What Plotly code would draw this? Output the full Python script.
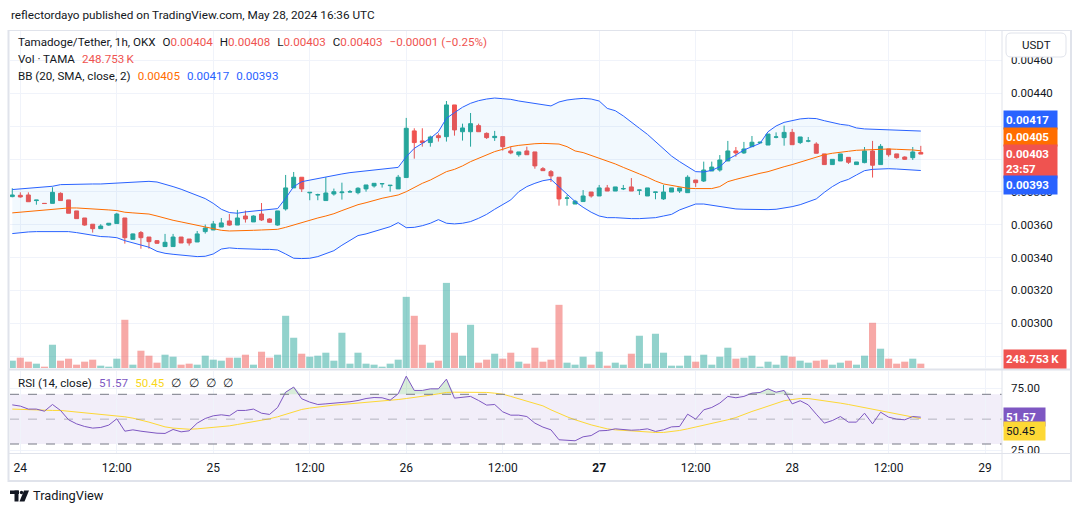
import plotly.graph_objects as go
import pandas as pd

# ---------------- data ----------------
open_ = [0.003771,0.003779,0.003781,0.003747,0.003730,0.003730,0.003791,0.003751,0.003684,0.003641,
         0.003603,0.003576,0.003598,0.003607,0.003641,0.003511,0.003552,0.003525,0.003503,0.003467,
         0.003467,0.003525,0.003513,0.003495,0.003558,0.003568,0.003586,0.003623,0.003598,0.003653,
         0.003617,0.003665,0.003635,0.003598,0.003696,0.003824,0.003889,0.003794,0.003781,0.003747,
         0.003787,0.003795,0.003799,0.003795,0.003818,0.003836,0.003849,0.003838,0.003818,0.003887,
         0.004171,0.004110,0.004100,0.004142,0.004136,0.004329,0.004166,0.004166,0.004203,0.004156,
         0.004130,0.004136,0.004049,0.004026,0.004049,0.004043,0.003941,0.003923,0.003889,0.003761,
         0.003726,0.003741,0.003799,0.003775,0.003824,0.003805,0.003818,0.003830,0.003810,0.003775,
         0.003797,0.003757,0.003799,0.003805,0.003795,0.003872,0.003866,0.003927,0.003933,0.003988,
         0.004049,0.004037,0.004075,0.004098,0.004085,0.004133,0.004130,0.004162,0.004100,0.004109,
         0.004091,0.004031,0.003966,0.003988,0.004010,0.003966,0.003978,0.004049,0.003966,0.004061,
         0.004031,0.004012,0.004008,0.004040]
high = [0.003822,0.003797,0.003797,0.003750,0.003731,0.003828,0.003797,0.003751,0.003684,0.003641,
        0.003603,0.003603,0.003609,0.003672,0.003641,0.003546,0.003562,0.003525,0.003507,0.003544,
        0.003544,0.003525,0.003513,0.003562,0.003601,0.003623,0.003641,0.003665,0.003690,0.003686,
        0.003657,0.003732,0.003639,0.003684,0.003903,0.003921,0.003889,0.003797,0.003789,0.003889,
        0.003820,0.003856,0.003811,0.003828,0.003842,0.003852,0.003850,0.003840,0.003903,0.004250,
        0.004187,0.004187,0.004142,0.004156,0.004353,0.004329,0.004215,0.004280,0.004215,0.004162,
        0.004171,0.004136,0.004075,0.004043,0.004075,0.004043,0.003951,0.003933,0.003889,0.003781,
        0.003751,0.003811,0.003799,0.003842,0.003842,0.003830,0.003842,0.003884,0.003811,0.003824,
        0.003799,0.003842,0.003824,0.003824,0.003901,0.003872,0.003984,0.003984,0.004024,0.004110,
        0.004073,0.004104,0.004140,0.004106,0.004152,0.004162,0.004203,0.004183,0.004134,0.004134,
        0.004102,0.004031,0.003998,0.004031,0.004010,0.003982,0.004073,0.004110,0.004091,0.004061,
        0.004031,0.004016,0.004073,0.004080]
low = [0.003767,0.003765,0.003740,0.003722,0.003729,0.003730,0.003747,0.003670,0.003637,0.003594,
       0.003552,0.003576,0.003594,0.003607,0.003485,0.003511,0.003454,0.003454,0.003485,0.003467,
       0.003467,0.003489,0.003473,0.003495,0.003546,0.003568,0.003586,0.003594,0.003598,0.003613,
       0.003617,0.003623,0.003611,0.003594,0.003686,0.003824,0.003799,0.003749,0.003749,0.003747,
       0.003777,0.003753,0.003797,0.003785,0.003801,0.003826,0.003826,0.003801,0.003818,0.003887,
       0.004002,0.004075,0.004075,0.004106,0.004106,0.004142,0.004112,0.004075,0.004166,0.004122,
       0.004110,0.004051,0.004029,0.004014,0.004026,0.003941,0.003929,0.003860,0.003716,0.003716,
       0.003726,0.003741,0.003765,0.003775,0.003805,0.003805,0.003811,0.003805,0.003781,0.003775,
       0.003755,0.003751,0.003799,0.003793,0.003795,0.003830,0.003860,0.003927,0.003923,0.003988,
       0.004014,0.004031,0.004075,0.004095,0.004085,0.004126,0.004081,0.004087,0.004091,0.004102,
       0.004035,0.003966,0.003966,0.003988,0.003970,0.003966,0.003974,0.003887,0.003966,0.004014,
       0.004002,0.003994,0.003994,0.004030]
close_ = [0.003781,0.003769,0.003740,0.003750,0.003729,0.003797,0.003747,0.003670,0.003637,0.003598,
          0.003576,0.003592,0.003609,0.003665,0.003521,0.003544,0.003521,0.003497,0.003487,0.003493,
          0.003525,0.003489,0.003489,0.003544,0.003580,0.003605,0.003611,0.003598,0.003641,0.003635,
          0.003653,0.003629,0.003615,0.003684,0.003824,0.003889,0.003818,0.003797,0.003783,0.003793,
          0.003801,0.003799,0.003801,0.003822,0.003842,0.003852,0.003850,0.003840,0.003889,0.004187,
          0.004100,0.004100,0.004134,0.004130,0.004329,0.004177,0.004189,0.004215,0.004166,0.004130,
          0.004138,0.004075,0.004037,0.004043,0.004026,0.003958,0.003929,0.003897,0.003757,0.003763,
          0.003743,0.003775,0.003775,0.003824,0.003805,0.003830,0.003820,0.003805,0.003811,0.003824,
          0.003799,0.003799,0.003824,0.003824,0.003889,0.003856,0.003933,0.003951,0.003994,0.004049,
          0.004037,0.004061,0.004102,0.004102,0.004152,0.004134,0.004162,0.004087,0.004134,0.004110,
          0.004035,0.003966,0.003998,0.004031,0.003980,0.003982,0.004049,0.003962,0.004077,0.004026,
          0.004008,0.003998,0.004043,0.004030]
volume_k = [420,592,363,248,76,1337,420,535,191,363,
            478,134,76,535,2770,191,993,707,306,764,
            649,191,248,191,707,478,420,592,592,764,
            191,936,592,764,2999,1738,821,649,707,879,
            420,2025,248,879,248,191,76,248,478,4087,
            2999,1337,306,420,4890,2025,707,2483,306,478,
            821,535,879,363,248,1165,363,478,3629,306,
            191,649,191,936,134,306,191,821,1853,248,
            1967,879,134,134,707,363,764,191,649,1165,
            535,592,707,76,363,191,707,649,420,306,
            420,478,191,306,420,191,707,2598,1108,535,
            248,363,535,248.753]
bb_upper = [0.003814,0.003818,0.003822,0.003826,0.003828,0.003834,0.003844,0.003846,0.003846,0.003848,
            0.003848,0.003848,0.003850,0.003852,0.003854,0.003858,0.003862,0.003864,0.003860,0.003848,
            0.003832,0.003816,0.003797,0.003775,0.003759,0.003730,0.003694,0.003674,0.003670,0.003678,
            0.003684,0.003690,0.003694,0.003698,0.003761,0.003832,0.003862,0.003872,0.003882,0.003893,
            0.003901,0.003909,0.003917,0.003923,0.003925,0.003933,0.003939,0.003943,0.003949,0.004014,
            0.004065,0.004095,0.004126,0.004166,0.004248,0.004282,0.004315,0.004339,0.004355,0.004365,
            0.004371,0.004367,0.004363,0.004353,0.004345,0.004337,0.004329,0.004323,0.004347,0.004359,
            0.004365,0.004369,0.004365,0.004353,0.004308,0.004294,0.004262,0.004227,0.004187,0.004150,
            0.004106,0.004059,0.004018,0.003984,0.003953,0.003923,0.003921,0.003931,0.003953,0.003998,
            0.004024,0.004055,0.004075,0.004095,0.004166,0.004201,0.004223,0.004233,0.004244,0.004248,
            0.004246,0.004233,0.004221,0.004211,0.004205,0.004189,0.004183,0.004181,0.004181,0.004179,
            0.004177,0.004175,0.004173,0.004170]
bb_basis = [0.003672,0.003676,0.003680,0.003684,0.003688,0.003694,0.003700,0.003702,0.003702,0.003700,
            0.003698,0.003694,0.003690,0.003686,0.003676,0.003672,0.003670,0.003665,0.003653,0.003639,
            0.003627,0.003617,0.003607,0.003596,0.003584,0.003574,0.003566,0.003562,0.003562,0.003564,
            0.003566,0.003568,0.003570,0.003572,0.003584,0.003599,0.003613,0.003629,0.003641,0.003653,
            0.003667,0.003686,0.003706,0.003722,0.003734,0.003749,0.003761,0.003771,0.003781,0.003801,
            0.003828,0.003852,0.003872,0.003897,0.003923,0.003937,0.003958,0.003984,0.004004,0.004022,
            0.004045,0.004059,0.004075,0.004083,0.004089,0.004093,0.004095,0.004095,0.004091,0.004075,
            0.004049,0.004039,0.004022,0.004008,0.003990,0.003970,0.003949,0.003927,0.003909,0.003889,
            0.003866,0.003848,0.003838,0.003828,0.003822,0.003820,0.003820,0.003820,0.003832,0.003862,
            0.003876,0.003889,0.003901,0.003913,0.003923,0.003939,0.003953,0.003966,0.003982,0.003996,
            0.004010,0.004026,0.004035,0.004043,0.004047,0.004053,0.004055,0.004057,0.004061,0.004061,
            0.004059,0.004059,0.004055,0.004050]
bb_lower = [0.003546,0.003552,0.003556,0.003558,0.003558,0.003558,0.003558,0.003558,0.003552,0.003544,
            0.003534,0.003528,0.003526,0.003521,0.003503,0.003491,0.003479,0.003463,0.003438,0.003426,
            0.003420,0.003414,0.003408,0.003406,0.003408,0.003422,0.003452,0.003459,0.003455,0.003452,
            0.003450,0.003450,0.003450,0.003446,0.003422,0.003396,0.003394,0.003396,0.003406,0.003422,
            0.003442,0.003475,0.003507,0.003534,0.003544,0.003558,0.003572,0.003588,0.003613,0.003582,
            0.003584,0.003594,0.003609,0.003631,0.003609,0.003605,0.003609,0.003619,0.003639,0.003663,
            0.003694,0.003720,0.003751,0.003801,0.003832,0.003852,0.003868,0.003876,0.003832,0.003787,
            0.003741,0.003706,0.003676,0.003653,0.003643,0.003643,0.003639,0.003637,0.003637,0.003639,
            0.003643,0.003653,0.003663,0.003690,0.003710,0.003726,0.003726,0.003718,0.003710,0.003700,
            0.003696,0.003694,0.003692,0.003690,0.003692,0.003694,0.003700,0.003710,0.003722,0.003738,
            0.003757,0.003797,0.003832,0.003860,0.003876,0.003903,0.003929,0.003937,0.003941,0.003941,
            0.003939,0.003937,0.003933,0.003930]
rsi = [61.5,60.5,58.1,58.1,56.4,61.8,57.0,49.5,46.2,44.1,
       42.8,43.3,45.2,50.3,40.3,41.4,40.3,39.3,38.7,38.5,
       41.7,39.8,40.6,46.8,50.5,52.7,53.5,52.7,57.0,57.0,
       58.1,54.8,53.8,59.4,71.7,75.8,66.4,63.7,61.8,62.3,
       62.9,62.9,64.0,65.0,66.6,67.4,67.2,65.3,70.4,84.6,
       73.1,73.1,74.4,74.4,82.2,66.9,67.7,68.3,65.0,61.3,
       61.8,55.9,53.2,53.2,52.1,46.8,43.6,41.4,33.4,33.1,
       32.6,35.8,36.8,40.6,40.9,42.2,41.7,41.1,41.4,42.2,
       40.1,41.4,43.8,44.1,54.0,50.0,57.5,59.4,62.9,68.3,
       67.2,68.3,70.9,71.5,74.4,71.7,73.1,62.3,64.8,61.5,
       54.0,46.8,48.9,52.1,47.6,47.6,54.8,46.2,55.6,51.6,
       50.0,49.5,52.1,51.57]
rsi_ma = [58.1,57.8,57.5,57.2,57.2,57.0,57.0,56.4,55.6,55.1,
          54.8,54.3,53.5,52.7,51.9,50.8,49.5,47.6,45.7,43.8,
          42.8,42.2,41.9,42.2,42.8,43.0,43.6,44.6,45.7,46.8,
          48.1,49.2,50.3,51.9,54.0,56.2,57.8,58.9,59.9,60.7,
          61.3,61.8,62.3,62.9,63.4,64.0,64.5,65.0,65.8,66.6,
          67.4,68.3,69.3,70.4,71.5,71.7,71.7,71.7,71.7,71.5,
          70.9,70.1,68.3,66.4,64.2,62.1,60.7,57.5,54.6,51.9,
          49.5,47.3,45.4,43.8,42.2,41.4,40.9,40.3,39.8,39.3,
          39.3,39.3,39.8,40.9,42.2,43.6,44.9,46.5,47.9,49.5,
          51.3,54.0,56.2,58.3,60.5,62.9,64.8,65.8,66.6,66.6,
          65.8,65.0,64.0,62.9,61.8,60.5,59.4,57.8,56.4,55.4,
          54.0,52.7,51.3,50.45]
first_bar = "2024-05-23 23:00"
tick_times = ["2024-05-24 00:00", "2024-05-24 12:00", "2024-05-25 00:00", "2024-05-25 12:00",
              "2024-05-26 00:00", "2024-05-26 12:00", "2024-05-27 00:00", "2024-05-27 12:00",
              "2024-05-28 00:00", "2024-05-28 12:00", "2024-05-29 00:00"]
tick_labels = ["24", "12:00", "25", "12:00", "26", "12:00", "<b>27</b>", "12:00", "28", "12:00", "29"]
price_tick_vals = [0.0028, 0.0030, 0.0032, 0.0034, 0.0036, 0.0038, 0.0040, 0.0042, 0.0044, 0.0046]
price_tick_text = ["", "0.00300", "0.00320", "0.00340", "0.00360", "0.00380", "", "", "0.00440", "0.00460"]
rsi_levels = [70, 50, 30]
rsi_ticks = [25, 75]

times = pd.date_range(first_bar, periods=len(close_), freq="h")

# ---------------- styling / layout helpers ----------------
W, H = 1080, 515
ML, MR, MT, MB = 10, 78, 31, 62
PW, PH = W - ML - MR, H - MT - MB
def px(x): return (x - ML) / PW
def py(y): return (H - MB - y) / PH

UP, DOWN = "#26a69a", "#ef5350"
TXT = "#131722"
GRID = "#f0f3fa"
BORDER = "#e0e3eb"
FONT = "Roboto"

fig = go.Figure()

# Bollinger bands
fig.add_trace(go.Scatter(x=times, y=bb_lower, mode="lines", line=dict(color="#2962ff", width=1),
                         hoverinfo="skip", xaxis="x", yaxis="y"))
fig.add_trace(go.Scatter(x=times, y=bb_upper, mode="lines", line=dict(color="#2962ff", width=1),
                         fill="tonexty", fillcolor="rgba(33,150,243,0.06)",
                         hoverinfo="skip", xaxis="x", yaxis="y"))
fig.add_trace(go.Scatter(x=times, y=bb_basis, mode="lines", line=dict(color="#ff6d00", width=1),
                         hoverinfo="skip", xaxis="x", yaxis="y"))
# candles
fig.add_trace(go.Candlestick(x=times, open=open_, high=high, low=low, close=close_,
                             increasing=dict(line=dict(color=UP, width=1), fillcolor=UP),
                             decreasing=dict(line=dict(color=DOWN, width=1), fillcolor=DOWN),
                             whiskerwidth=0, hoverinfo="skip", xaxis="x", yaxis="y"))
# volume
vol_colors = ["rgba(38,166,154,0.5)" if c >= o else "rgba(239,83,80,0.5)" for o, c in zip(open_, close_)]
fig.add_trace(go.Bar(x=times, y=volume_k, marker=dict(color=vol_colors, line=dict(width=0)),
                     hoverinfo="skip", xaxis="x", yaxis="y3"))
# RSI overbought fill
fig.add_trace(go.Scatter(x=times, y=[rsi_levels[0]] * len(rsi), mode="lines", line=dict(width=0),
                         hoverinfo="skip", xaxis="x", yaxis="y2"))
fig.add_trace(go.Scatter(x=times, y=[max(v, rsi_levels[0]) for v in rsi], mode="lines", line=dict(width=0),
                         fill="tonexty", fillcolor="rgba(76,175,80,0.22)", hoverinfo="skip",
                         xaxis="x", yaxis="y2"))
fig.add_trace(go.Scatter(x=times, y=rsi_ma, mode="lines", line=dict(color="#fdd835", width=1),
                         hoverinfo="skip", xaxis="x", yaxis="y2"))
fig.add_trace(go.Scatter(x=times, y=rsi, mode="lines", line=dict(color="#7e57c2", width=1),
                         hoverinfo="skip", xaxis="x", yaxis="y2"))

shapes = []
# RSI band
shapes.append(dict(type="rect", xref="paper", yref="y2", x0=0, x1=1, y0=rsi_levels[2], y1=rsi_levels[0],
                   fillcolor="rgba(126,87,194,0.1)", line=dict(width=0), layer="below"))
for lv, col in zip(rsi_levels, ["#787b86", "rgba(120,123,134,0.5)", "#787b86"]):
    shapes.append(dict(type="line", xref="paper", yref="y2", x0=0, x1=1, y0=lv, y1=lv,
                       line=dict(color=col, width=1, dash="dash"), layer="above"))

def rect_px(x0, y0, x1, y1, **kw):
    d = dict(type="rect", xref="paper", yref="paper", x0=px(x0), x1=px(x1), y0=py(y1), y1=py(y0))
    d.update(kw)
    return d

def line_px(x0, y0, x1, y1, color=BORDER, width=1):
    return dict(type="line", xref="paper", yref="paper", x0=px(x0), x1=px(x1), y0=py(y0), y1=py(y1),
                line=dict(color=color, width=width), layer="above")

# cover for axis corner (time axis / price axis)
shapes.append(rect_px(1003, 453.5, 1070, 480, fillcolor="white", line=dict(width=0), layer="above"))
# frame + separators
shapes.append(line_px(8, 30.5, 1071, 30.5))
shapes.append(line_px(8, 481, 1071, 481, width=2))
shapes.append(line_px(8.5, 30, 8.5, 482, width=2))
shapes.append(line_px(1071, 30, 1071, 482, width=2))
shapes.append(line_px(1002, 30, 1002, 481))
shapes.append(line_px(8, 369.5, 1071, 369.5, width=2))
shapes.append(line_px(8, 453.5, 1071, 453.5))

# USDT rounded box
def rrect_path(x0, y0, x1, y1, r):
    X = lambda v: px(v); Y = lambda v: py(v)
    return (f"M {X(x0+r)},{Y(y0)} L {X(x1-r)},{Y(y0)} Q {X(x1)},{Y(y0)} {X(x1)},{Y(y0+r)} "
            f"L {X(x1)},{Y(y1-r)} Q {X(x1)},{Y(y1)} {X(x1-r)},{Y(y1)} L {X(x0+r)},{Y(y1)} "
            f"Q {X(x0)},{Y(y1)} {X(x0)},{Y(y1-r)} L {X(x0)},{Y(y0+r)} Q {X(x0)},{Y(y0)} {X(x0+r)},{Y(y0)} Z")
shapes.append(dict(type="path", xref="paper", yref="paper", path=rrect_path(1006, 33, 1066, 57, 5),
                   fillcolor="white", line=dict(color=BORDER, width=1), layer="above"))

# TradingView logo
shapes.append(rect_px(10, 490.5, 19, 494, fillcolor=TXT, line=dict(width=0), layer="above"))
shapes.append(rect_px(14.5, 490.5, 18.5, 501.5, fillcolor=TXT, line=dict(width=0), layer="above"))
shapes.append(dict(type="circle", xref="paper", yref="paper", x0=px(19.8), x1=px(23.2), y0=py(494.2), y1=py(490.8),
                   fillcolor=TXT, line=dict(width=0), layer="above"))
shapes.append(dict(type="path", xref="paper", yref="paper",
                   path=f"M {px(24)},{py(490.5)} L {px(29)},{py(490.5)} L {px(24.5)},{py(501.5)} L {px(19.5)},{py(501.5)} Z",
                   fillcolor=TXT, line=dict(width=0), layer="above"))

def span(t, c):
    return f"<span style='color:{c}'>{t}</span>"

sp = "\u2002\u200a"
chg = close_[-1] - open_[-1]
chg_pct = chg / open_[-1] * 100
line1 = (f"Tamadoge/Tether, 1h, OKX{sp}O{span(f'{open_[-1]:.5f}', DOWN)}{sp}H{span(f'{high[-1]:.5f}', DOWN)}"
         f"{sp}L{span(f'{low[-1]:.5f}', DOWN)}{sp}C{span(f'{close_[-1]:.5f}', DOWN)}{sp}"
         + span(f"\u2212{abs(chg):.5f} (\u2212{abs(chg_pct):.2f}%)", DOWN))
line2 = f"Vol · TAMA{sp}" + span(f"{volume_k[-1]:.3f}\u2009K", DOWN)
line3 = (f"BB (20, SMA, close, 2){sp}" + span(f"{bb_basis[-1]:.5f}", "#ff6d00") + sp
         + span(f"{bb_upper[-1]:.5f}", "#2962ff") + sp + span(f"{bb_lower[-1]:.5f}", "#2962ff"))
line_rsi = (f"RSI (14, close){sp}" + span(f"{rsi[-1]:.2f}", "#7e57c2") + sp
            + span(f"{rsi_ma[-1]:.2f}", "#f9d71c") + f"{sp}∅{sp}∅{sp}∅{sp}∅")

ann = []
def text_px(x, y, t, size=11.6, color=TXT, xanchor="left", **kw):
    d = dict(xref="paper", yref="paper", x=px(x), y=py(y), text=t, showarrow=False,
             xanchor=xanchor, yanchor="middle", font=dict(family=FONT, size=size, color=color))
    d.update(kw)
    return d

ann.append(text_px(9, 15, "reflectordayo published on TradingView.com, May 28, 2024 16:36 UTC", size=11.75))
ann.append(text_px(16, 42.3, line1))
ann.append(text_px(16, 59.5, line2))
ann.append(text_px(16, 75.7, line3))
ann.append(text_px(16, 383, line_rsi))
ann.append(text_px(31, 496, "TradingView", size=12.8))
ann.append(text_px(1036, 45, "USDT", size=11.5, xanchor="center"))

def label(y, t, bg, fg="white", w=49):
    return dict(xref="paper", yref="paper", x=px(1002.5), y=py(y), text=t, showarrow=False,
                xanchor="left", yanchor="middle", align="left", bgcolor=bg, borderpad=2, width=w,
                font=dict(family=FONT, size=11.5, color=fg))

ann.append(label(120.2, f"<b>{bb_upper[-1]:.5f}</b>", "#2962ff"))
ann.append(label(136.6, f"<b>{bb_basis[-1]:.5f}</b>", "#ff6d00"))
ann.append(label(161.3, f"<b>{close_[-1]:.5f}</b><br><b>23:57</b>", DOWN))
ann.append(label(185.3, f"<b>{bb_lower[-1]:.5f}</b>", "#2962ff"))
ann.append(label(358.5, f"<b>{volume_k[-1]:.3f}\u2009K</b>", DOWN, w=58))
ann.append(label(416.5, f"<b>{rsi[-1]:.2f}</b>", "#7e57c2", w=37))
ann.append(label(430.5, f"{rsi_ma[-1]:.2f}", "#fdd835", fg=TXT, w=37))

main_dom = [py(368), 1]
rsi_dom = [0, py(371)]
p_top, p_bot = 0.004779, 0.002728
r_top, r_bot = 88.75, 22.76
vol_top = 19360

fig.update_layout(
    width=W, height=H, margin=dict(l=ML, r=MR, t=MT, b=MB),
    paper_bgcolor="white", plot_bgcolor="white", showlegend=False,
    font=dict(family=FONT, size=11.5, color=TXT),
    bargap=0.12,
    xaxis=dict(type="date", range=["2024-05-23 22:43", "2024-05-29 02:06"], anchor="y2",
               tickvals=tick_times, ticktext=tick_labels, showgrid=True, gridcolor=GRID, gridwidth=1,
               zeroline=False, showline=False, ticks="", ticklabelstandoff=6,
               tickfont=dict(family=FONT, size=12, color=TXT), rangeslider=dict(visible=False)),
    yaxis=dict(domain=main_dom, side="right", range=[p_bot, p_top], tickvals=price_tick_vals,
               ticktext=price_tick_text, showgrid=True, gridcolor=GRID, zeroline=False, showline=False,
               ticks="", ticklabelstandoff=8, tickfont=dict(family=FONT, size=11.5, color=TXT)),
    yaxis2=dict(domain=rsi_dom, side="right", range=[r_bot, r_top], tickvals=rsi_ticks,
                ticktext=[f"{v:.2f}" for v in rsi_ticks], showgrid=True, gridcolor=GRID, zeroline=False,
                showline=False, ticks="", ticklabelstandoff=8, tickfont=dict(family=FONT, size=11.5, color=TXT)),
    yaxis3=dict(domain=main_dom, overlaying="y", range=[0, vol_top], visible=False),
    shapes=shapes, annotations=ann,
)

fig.write_html("out.html")
